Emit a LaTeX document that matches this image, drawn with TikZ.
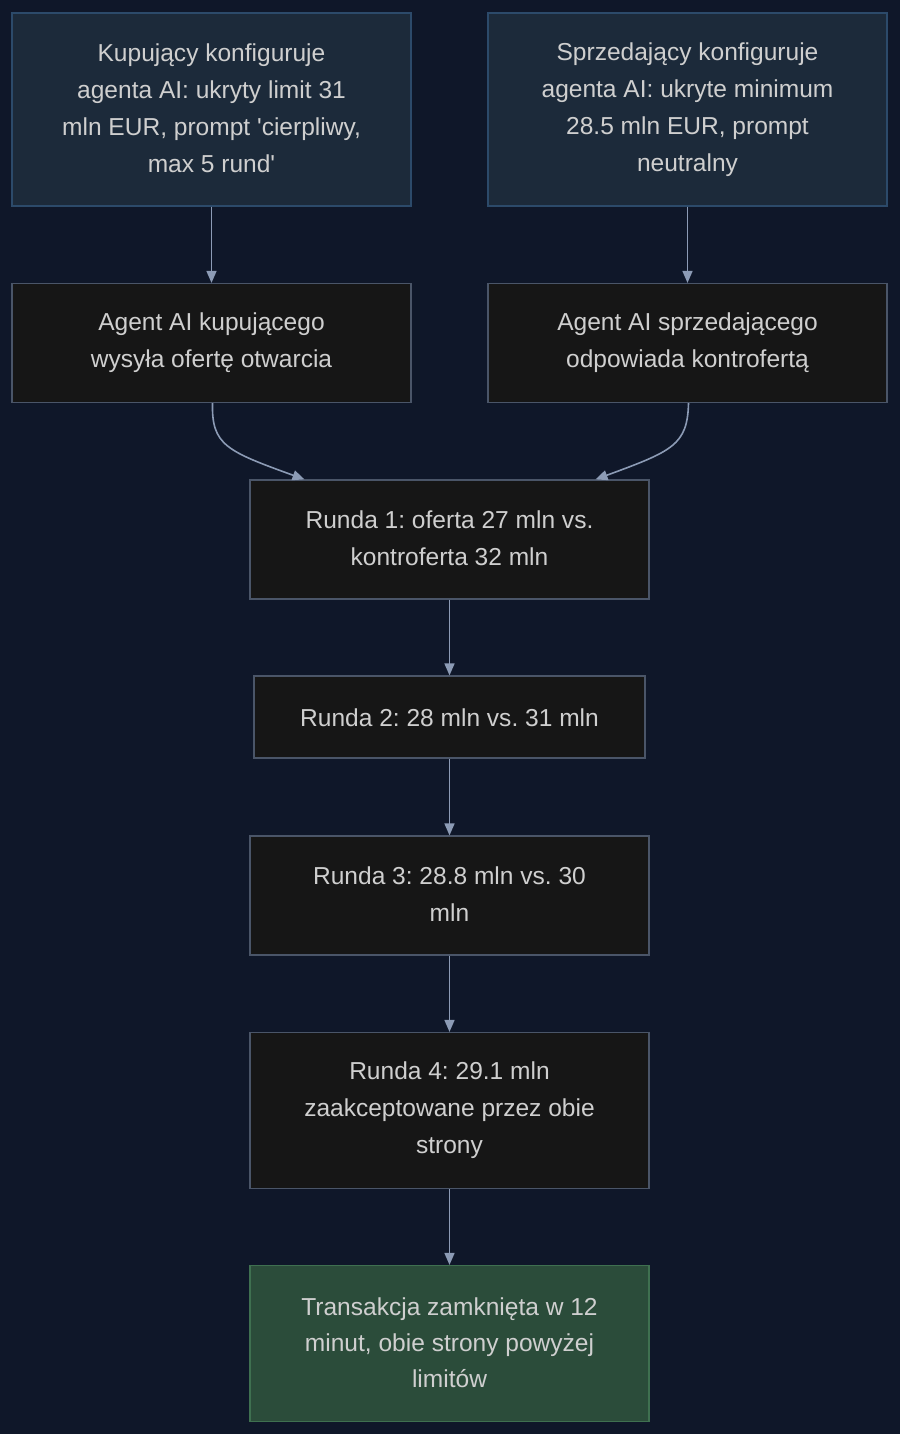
\documentclass[tikz,border=0pt]{standalone}
\usepackage{fontspec}
\setmainfont{Liberation Sans}
\usetikzlibrary{arrows.meta,calc}
\definecolor{bg}{HTML}{0F1729}
\definecolor{topfill}{HTML}{1C2A3A}
\definecolor{topdraw}{HTML}{2C4A6A}
\definecolor{darkfill}{HTML}{161616}
\definecolor{darkdraw}{HTML}{4A5568}
\definecolor{greenfill}{HTML}{2B4C3A}
\definecolor{greendraw}{HTML}{3F7050}
\definecolor{arrowc}{HTML}{8C9BB5}
\definecolor{txt}{HTML}{CFCFCF}
\newcommand{\myrule}{\rule[-2pt]{0pt}{18pt}}
\tikzset{
  box/.style={draw, line width=0.9pt, rectangle, inner sep=0pt, align=center, text=txt,
    font=\fontsize{18.4}{27.75}\selectfont\frenchspacing,
    execute at begin node=\myrule, execute at end node=\myrule},
  topbox/.style={box, fill=topfill, draw=topdraw, minimum width=299.25pt, minimum height=144.75pt},
  darkbox/.style={box, fill=darkfill, draw=darkdraw},
  greenbox/.style={box, fill=greenfill, draw=greendraw},
  conn/.style={draw=arrowc, line width=1.2pt, -{Triangle[width=7.5pt,length=9pt]}}
}
\begin{document}
\begin{tikzpicture}[x=0.75pt,y=-0.75pt]
\fill[bg] (0,0) rectangle (900,1434);
\useasboundingbox (0,0) rectangle (900,1434);
\node[topbox] (A) at (211.5,109.5) {Kupujący konfiguruje\\agenta AI: ukryty limit 31\\mln EUR, prompt \textquotesingle cierpliwy,\\max 5 rund\textquotesingle};
\node[topbox] (B) at (687.5,109.5) {Sprzedający konfiguruje\\agenta AI: ukryte minimum\\28.5 mln EUR, prompt\\neutralny};
\node[darkbox, minimum width=299.25pt, minimum height=89.25pt] (C) at (211.5,343) {Agent AI kupującego\\wysyła ofertę otwarcia};
\node[darkbox, minimum width=299.25pt, minimum height=89.25pt] (D) at (687.5,343) {Agent AI sprzedającego\\odpowiada kontrofertą};
\node[darkbox, minimum width=299.25pt, minimum height=89.25pt] (E) at (449.5,539.5) {Runda 1: oferta 27 mln vs.\\kontroferta 32 mln};
\node[darkbox, minimum width=293.25pt, minimum height=61.5pt] (F) at (449.5,717) {Runda 2: 28 mln vs. 31 mln};
\node[darkbox, minimum width=299.25pt, minimum height=89.25pt] (G) at (449.5,895.5) {Runda 3: 28.8 mln vs. 30\\mln};
\node[darkbox, minimum width=299.25pt, minimum height=117pt] (H) at (449.5,1110.5) {Runda 4: 29.1 mln\\zaakceptowane przez obie\\strony};
\node[greenbox, minimum width=299.25pt, minimum height=117pt, font=\fontsize{18.4}{27}\selectfont\frenchspacing] (I) at (449.5,1343.5) {Transakcja zamknięta w 12\\minut, obie strony powyżej\\limitów};
\draw[conn] (A) -- (C);
\draw[conn] (B) -- (D);
\coordinate (e1) at ($(E.north)+(-145,0)$);
\coordinate (e2) at ($(E.north)+(146,0)$);
\draw[conn] ([xshift=0.75pt]C.south) .. controls ($(C.south)+(0,42)$) and ($(C.south)+(15,48)$) .. (e1);
\draw[conn] ([xshift=0.75pt]D.south) .. controls ($(D.south)+(0,42)$) and ($(D.south)+(-15,48)$) .. (e2);
\draw[conn] (E) -- (F);
\draw[conn] (F) -- (G);
\draw[conn] (G) -- (H);
\draw[conn] (H) -- (I);
\end{tikzpicture}
\end{document}
